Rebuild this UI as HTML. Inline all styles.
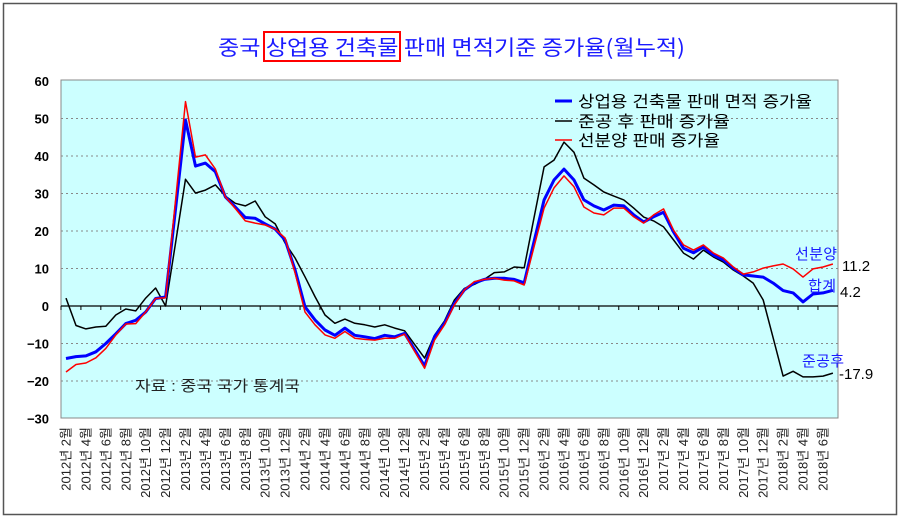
<!DOCTYPE html>
<html><head><meta charset="utf-8"><style>
html,body{margin:0;padding:0;background:#fff;}
svg{display:block;font-family:"Liberation Sans","Noto Sans CJK KR",sans-serif;}
</style></head><body>
<svg id="c" width="900" height="519" viewBox="0 0 900 519" xmlns="http://www.w3.org/2000/svg">
<rect x="3.5" y="3.5" width="893" height="511" fill="#fff" stroke="#555" stroke-width="1.5"/>
<text x="218" y="55" textLength="467" lengthAdjust="spacingAndGlyphs" font-size="21" fill="#1a1aff" font-family="'Noto Sans CJK KR',sans-serif">중국 상업용 건축물 판매 면적기준 증가율(월누적)</text>
<rect x="264" y="32" width="136" height="29" fill="none" stroke="#f00" stroke-width="2"/>
<rect x="61" y="80" width="777" height="338" fill="#ccffff" stroke="#888" stroke-width="1"/>
<g id="grid"></g>
<g id="lines"></g>
<g font-size="16" fill="#000">
<line x1="555" y1="101" x2="572" y2="101" stroke="#00f" stroke-width="3"/>
<text x="578" y="107" textLength="234" lengthAdjust="spacingAndGlyphs">상업용 건축물 판매 면적 증가율</text>
<line x1="555" y1="121" x2="572" y2="121" stroke="#000" stroke-width="1.5"/>
<text x="578" y="127" textLength="152" lengthAdjust="spacingAndGlyphs">준공 후 판매 증가율</text>
<line x1="555" y1="140" x2="572" y2="140" stroke="#f00" stroke-width="1.5"/>
<text x="578" y="146" textLength="142" lengthAdjust="spacingAndGlyphs">선분양 판매 증가율</text>
</g>
<text x="135" y="391" font-size="15" fill="#222" textLength="165" lengthAdjust="spacingAndGlyphs">자료 : 중국 국가 통계국</text>
<g font-size="15">
<text x="795" y="259" fill="#1a1aff" textLength="42">선분양</text>
<text x="842" y="271" fill="#000">11.2</text>
<text x="808" y="291" fill="#1a1aff" textLength="28">합계</text>
<text x="840" y="297" fill="#000">4.2</text>
<text x="802" y="366" fill="#1a1aff" textLength="42">준공후</text>
<text x="839" y="379" fill="#000">-17.9</text>
</g>
</svg>
<script>
var NS="http://www.w3.org/2000/svg";
function Y(v){return 306-v*3.75;}
function X(i){return 66+i*9.96;}
var g=document.getElementById('grid');
function el(t,a,p,txt){var e=document.createElementNS(NS,t);for(var k in a)e.setAttribute(k,a[k]);if(txt!==undefined)e.textContent=txt;(p||g).appendChild(e);return e;}
for(var v=-30;v<=60;v+=10){
 if(v!==0&&v!==60&&v!==-30) el('line',{x1:61,x2:838,y1:Y(v),y2:Y(v),stroke:'#888','stroke-dasharray':'2,3','stroke-width':1});
 el('text',{x:49,y:Y(v)+5,'text-anchor':'end','font-size':13,'font-weight':'bold',fill:'#000'},g,v===0?'0':(v<0?'−'+(-v):v));
}
el('line',{x1:61,x2:838,y1:306,y2:306,stroke:'#000','stroke-width':1.2});
for(var i=0;i<78;i+=2){ el('line',{x1:X(i)-5,x2:X(i)-5,y1:306,y2:310,stroke:'#000'}); }
var yr=2012,m=2;
for(var i=0;i<78;i++){
 if(i%2===0){var x=X(i)+4.5;el('text',{x:0,y:0,transform:'translate('+x+',427) rotate(-90)','text-anchor':'end','font-size':13,fill:'#222'},g,yr+'년 '+m+'월');}
 m++; if(m>12){m=1;yr++;}
}
var B=[-14,-13.5,-13.3,-12.2,-10,-7.4,-4.7,-3.8,-1.6,2,2.4,null,49.6,37.3,38.1,35.8,29.1,26.4,23.6,23.4,21.9,20.5,17.6,9.6,-0.2,-3.7,-6.4,-7.8,-5.9,-7.8,-8.2,-8.7,-7.8,-8.2,-7.3,null,-16,-8.2,-4.6,0.7,4.3,6.2,7.1,7.4,7.4,7.1,6.2,null,28.3,33.6,36.5,33.6,28.3,26.7,25.6,26.9,26.7,24.3,22.4,23.8,25,19.7,15.4,14.2,15.7,13.6,12.3,10.1,8.3,8,7.7,6.1,4.1,3.5,1.1,3.2,3.5,4.2];
var R=[-17.6,-15.6,-15.2,-13.8,-11.3,-7.7,-4.8,-4.7,-1.6,2,2.2,null,54.5,39.7,40.3,36.5,29.1,26,22.7,22.1,21.6,20.5,18.1,8.8,-1.6,-5,-7.7,-8.6,-6.8,-8.6,-8.9,-9.1,-8.6,-8.6,-7.5,null,-16.6,-9.1,-5,0.3,4.3,6.5,7.1,7.4,6.9,6.7,5.6,null,26.1,31.5,34.7,31.8,26.4,24.8,24.3,26.1,26.1,23.8,22.1,24.3,25.9,20.2,16.3,14.9,16.3,14.1,12.8,10.4,8.5,9.1,10.1,10.7,11.2,9.9,7.7,9.9,10.4,11.2];
var K=[2.1,-5.2,-6.1,-5.6,-5.4,-2.4,-0.8,-1.3,2.1,4.8,0,null,33.8,30.1,30.9,32.3,29.3,27.4,26.7,28,23.8,21.9,16.8,12.8,7.8,2.5,-2.4,-4.6,-3.5,-4.6,-5,-5.6,-5,-5.9,-6.6,null,-13.9,-7.8,-4,1.6,4.7,5.8,7.1,8.9,9.1,10.4,10.2,null,37.1,38.9,43.7,41,34.1,32.3,30.4,29.3,28.3,26.1,23.7,22.7,21.1,17.6,14.1,12.5,14.9,13.1,11.7,9.6,8,6.1,1.6,null,-18.7,-17.4,-18.9,-18.9,-18.7,-17.9];
function fill(a){for(var i=0;i<a.length;i++)if(a[i]===null)a[i]=(a[i-1]+a[i+1])/2;return a;}
var L=document.getElementById('lines');
function pl(a,c,w){var p=fill(a).map(function(v,i){return X(i).toFixed(1)+','+Y(v).toFixed(1);}).join(' ');el('polyline',{points:p,fill:'none',stroke:c,'stroke-width':w,'stroke-linejoin':'round'},L);}
pl(K,'#000',1.5);pl(B,'#00f',3);pl(R,'#f00',1.5);
</script>
</body></html>
